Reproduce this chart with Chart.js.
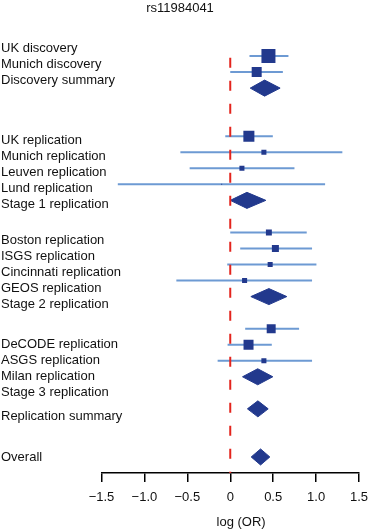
<!DOCTYPE html>
<html lang="en">
<head>
<meta charset="UTF-8">
<title>rs11984041 forest plot</title>
<script src="https://cdn.jsdelivr.net/npm/chart.js"></script>
<style>
  html, body { margin: 0; padding: 0; background: #fff; }
</style>
</head>
<body>
<canvas id="forest" width="370" height="530"></canvas>
<script>
// --- Data (y in row units from the top) ---
const labelNames = [
  'UK discovery', 'Munich discovery', 'Discovery summary',
  'UK replication', 'Munich replication', 'Leuven replication', 'Lund replication', 'Stage 1 replication',
  'Boston replication', 'ISGS replication', 'Cincinnati replication', 'GEOS replication', 'Stage 2 replication',
  'DeCODE replication', 'ASGS replication', 'Milan replication', 'Stage 3 replication',
  'Replication summary', 'Overall'
];
const labelRows = [0.5, 1.5, 2.5, 6.25, 7.25, 8.25, 9.25, 10.25, 12.5, 13.5, 14.5, 15.5, 16.5, 19, 20, 21, 22, 23.5, 26];

// single studies: box + confidence interval
const studyRows   = [1, 2, 6, 7, 8, 9, 12, 13, 14, 15, 18, 19, 20];
const studyEst    = [0.445, 0.308, 0.217, 0.392, 0.136, -0.10, 0.45, 0.526, 0.465, 0.167, 0.477, 0.213, 0.392];
const studyLo     = [0.224, 0.0, -0.058, -0.581, -0.473, -1.31, 0.0, 0.116, -0.035, -0.628, 0.174, -0.031, -0.147];
const studyHi     = [0.678, 0.613, 0.496, 1.306, 0.748, 1.105, 0.891, 0.953, 1.004, 0.953, 0.802, 0.484, 0.953];
const studyWeight = [100, 51, 62, 13, 13, 0.5, 18, 25, 13, 13, 41, 51, 13];

// pooled estimates: diamonds
const summaryRows = [3, 10, 16, 21, 23, 26];
const summaryEst  = [0.40, 0.194, 0.45, 0.32, 0.322, 0.353];
const summaryLo   = [0.233, 0.0, 0.24, 0.143, 0.2, 0.244];
const summaryHi   = [0.581, 0.415, 0.659, 0.496, 0.442, 0.461];

const xTicks = [-1.5, -1.0, -0.5, 0, 0.5, 1.0, 1.5];
const nullEffect = 0;

// --- Styling ---
const NAVY = '#22398d';
const CI_BLUE = '#6d9ad3';
const RED = '#e3241d';
const BOX_MAX = 14;      // px, side of the heaviest box
const ROWS = 27;
const DIAMOND_HALF = 0.5;
const LABEL_COL = 100.5; // px, width of the label column

Chart.defaults.font.family = "'Liberation Sans', Arial, Helvetica, sans-serif";
Chart.defaults.font.size = 13;
Chart.defaults.color = '#111';

const ciSets = studyRows.map((r, i) => ({
  type: 'scatter',
  showLine: true,
  data: [{ x: studyLo[i], y: r }, { x: studyHi[i], y: r }],
  borderColor: CI_BLUE,
  borderWidth: 2,
  pointRadius: 0,
  order: 3
}));

const boxSet = {
  type: 'scatter',
  data: studyRows.map((r, i) => ({ x: studyEst[i], y: r })),
  pointStyle: 'rect',
  pointRadius: studyWeight.map(w => BOX_MAX * Math.sqrt(w / 100) / Math.SQRT2),
  backgroundColor: NAVY,
  borderWidth: 0,
  order: 1
};

const diamondSets = summaryRows.map((r, i) => ({
  type: 'scatter',
  showLine: true,
  fill: 'shape',
  data: [
    { x: summaryLo[i], y: r },
    { x: summaryEst[i], y: r - DIAMOND_HALF },
    { x: summaryHi[i], y: r },
    { x: summaryEst[i], y: r + DIAMOND_HALF },
    { x: summaryLo[i], y: r }
  ],
  borderColor: NAVY,
  backgroundColor: NAVY,
  borderWidth: 1,
  pointRadius: 0,
  order: 1
}));

const refLine = {
  type: 'scatter',
  showLine: true,
  data: [{ x: nullEffect, y: 1.1 }, { x: nullEffect, y: ROWS }],
  borderColor: RED,
  borderWidth: 2,
  borderDash: [10, 13],
  pointRadius: 0,
  order: 0
};

new Chart(document.getElementById('forest'), {
  type: 'scatter',
  data: { datasets: [refLine, boxSet, ...diamondSets, ...ciSets] },
  options: {
    responsive: false,
    animation: false,
    events: [],
    layout: { padding: { left: 1, right: 11, top: 0, bottom: 0 } },
    plugins: {
      legend: { display: false },
      tooltip: { enabled: false },
      title: {
        display: true,
        text: 'rs11984041',
        font: { size: 13, weight: 'normal' },
        color: '#111',
        padding: { top: 0.5, bottom: 23.9 }
      }
    },
    scales: {
      x: {
        type: 'linear',
        min: -1.5,
        max: 1.5,
        afterBuildTicks: axis => { axis.ticks = xTicks.map(v => ({ value: v })); },
        afterFit: axis => { axis.paddingLeft = 0; axis.paddingRight = 0; },
        ticks: {
          padding: 8,
          color: '#111',
          callback: v => (v === 0 ? '0' : v.toFixed(1).replace('-', '\u2212'))
        },
        grid: { drawOnChartArea: false, drawTicks: true, tickLength: 9, color: '#000', lineWidth: 1.5 },
        border: { display: true, color: '#000', width: 1.5 },
        title: {
          display: true,
          text: '\u00a0\u00a0\u00a0\u00a0\u00a0\u00a0log (OR)',
          color: '#111',
          font: { size: 13 },
          padding: { top: 0.8, bottom: 0 }
        }
      },
      y: {
        type: 'linear',
        reverse: true,
        min: 0,
        max: ROWS,
        afterBuildTicks: axis => { axis.ticks = labelRows.map(v => ({ value: v })); },
        afterFit: axis => { axis.width = LABEL_COL; },
        ticks: {
          autoSkip: false,
          mirror: true,           // mirrored labels are not clipped to the axis box
          crossAlign: 'near',
          padding: -LABEL_COL,
          color: '#111',
          callback: (v, i) => labelNames[i]
        },
        grid: { display: false },
        border: { display: false }
      }
    }
  }
});
</script>
</body>
</html>
